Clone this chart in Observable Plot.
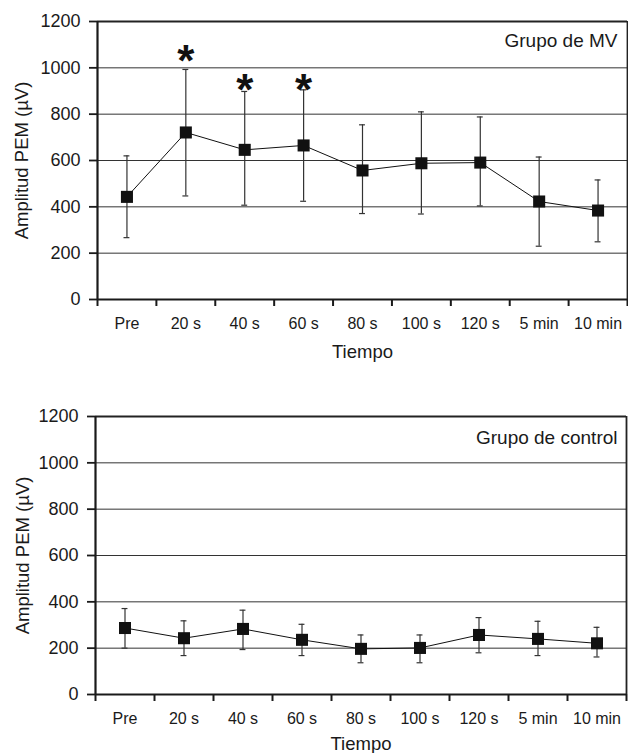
<!DOCTYPE html>
<html>
<head>
<meta charset="utf-8">
<script src="https://cdn.jsdelivr.net/npm/d3@7"></script>
<script src="https://cdn.jsdelivr.net/npm/@observablehq/plot@0.6"></script>
<style>
  html, body { margin: 0; padding: 0; background: #fff; }
  #chart svg { display: block; }
</style>
</head>
<body>
<div id="chart"></div>
<script>
const categories = ["Pre", "20 s", "40 s", "60 s", "80 s", "100 s", "120 s", "5 min", "10 min"];
const yTicks = [0, 200, 400, 600, 800, 1000, 1200];

const mvMean = [443, 721, 646, 665, 557, 588, 591, 423, 384];
const mvHigh = [620, 993, 898, 905, 754, 810, 788, 615, 516];
const mvLow  = [267, 447, 407, 424, 371, 369, 404, 230, 249];
const mvStar = [null, 1069, 946, 946, null, null, null, null, null];

const ctlMean = [287, 243, 283, 236, 197, 201, 257, 240, 221];
const ctlHigh = [371, 318, 364, 303, 257, 257, 332, 316, 290];
const ctlLow  = [200, 168, 194, 168, 137, 137, 180, 168, 162];
const ctlStar = [null, null, null, null, null, null, null, null, null];

const FONT = "Liberation Sans, Arial, sans-serif";
const INK = "#1a1a1a";

function makeChart({group, mean, high, low, star, height, marginTop, marginBottom, marginLeft, marginRight, groupDx, groupDy, titleDy, yTitleDx}) {
  const rows = categories.map((c, i) => ({cat: c, x: i + 0.5, mean: mean[i], high: high[i], low: low[i], star: star[i]}));
  const n = categories.length;
  return Plot.plot({
    width: 628,
    height,
    marginTop, marginBottom, marginLeft, marginRight,
    style: {fontFamily: FONT, color: INK, background: "#fff"},
    x: {domain: [0, n], axis: null},
    y: {domain: [0, 1200], axis: null},
    marks: [
      Plot.ruleY(yTicks.filter(v => v > 0 && v < 1200), {stroke: "#333", strokeWidth: 1}),
      Plot.ruleY([1200], {stroke: "#222", strokeWidth: 1.8}),
      Plot.ruleX([n], {stroke: "#222", strokeWidth: 1.8}),
      Plot.axisY({ticks: yTicks, tickSize: 8, tickPadding: 9, fontSize: 18, tickFormat: d => String(d), label: null, stroke: INK, strokeWidth: 1.8}),
      Plot.axisX({ticks: d3.range(n + 1), tickSize: 7, tickFormat: () => "", label: null, stroke: INK, strokeWidth: 2}),
      Plot.axisX({ticks: d3.range(n).map(i => i + 0.5), tickSize: 0, tickPadding: 18, fontSize: 16,
                  tickFormat: v => categories[Math.floor(v)], label: null}),
      Plot.ruleX([0], {stroke: INK, strokeWidth: 2.2}),
      Plot.ruleY([0], {stroke: INK, strokeWidth: 2.2}),
      Plot.ruleX(rows, {x: "x", y1: "low", y2: "high", stroke: "#333", strokeWidth: 1.2}),
      Plot.ruleY(rows, {y: "high", x1: d => d.x - 0.05, x2: d => d.x + 0.05, stroke: "#333", strokeWidth: 1.2}),
      Plot.ruleY(rows, {y: "low", x1: d => d.x - 0.05, x2: d => d.x + 0.05, stroke: "#333", strokeWidth: 1.2}),
      Plot.line(rows, {x: "x", y: "mean", stroke: "#111", strokeWidth: 1}),
      Plot.dot(rows, {x: "x", y: "mean", symbol: "square", r: 6.8, fill: "#111", stroke: "none"}),
      Plot.text(rows.filter(d => d.star != null), {x: "x", y: "star", text: () => "*", fontSize: 44, fontWeight: "bold", fill: "#111", dy: 10.5}),
      Plot.text([group], {frameAnchor: "top-right", text: d => d, textAnchor: "end", lineAnchor: "middle", dx: groupDx, dy: groupDy, fontSize: 19, fill: INK}),
      Plot.text(["Tiempo"], {frameAnchor: "bottom", text: d => d, textAnchor: "middle", lineAnchor: "middle", dy: titleDy, fontSize: 18.5, fill: INK}),
      Plot.text(["Amplitud PEM (\u00b5V)"], {frameAnchor: "left", text: d => d, rotate: -90, textAnchor: "middle", lineAnchor: "middle", dx: yTitleDx, fontSize: 18.5, fill: INK})
    ]
  });
}

const chart = document.getElementById("chart");
chart.appendChild(makeChart({
  group: "Grupo de MV", mean: mvMean, high: mvHigh, low: mvLow, star: mvStar,
  height: 370, marginTop: 21, marginBottom: 71, marginLeft: 97, marginRight: 1,
  groupDx: -10, groupDy: 19, titleDy: 53, yTitleDx: -75
}));
chart.appendChild(makeChart({
  group: "Grupo de control", mean: ctlMean, high: ctlHigh, low: ctlLow, star: ctlStar,
  height: 383, marginTop: 46, marginBottom: 59, marginLeft: 95, marginRight: 2,
  groupDx: -9, groupDy: 21, titleDy: 50, yTitleDx: -72
}));
</script>
</body>
</html>
